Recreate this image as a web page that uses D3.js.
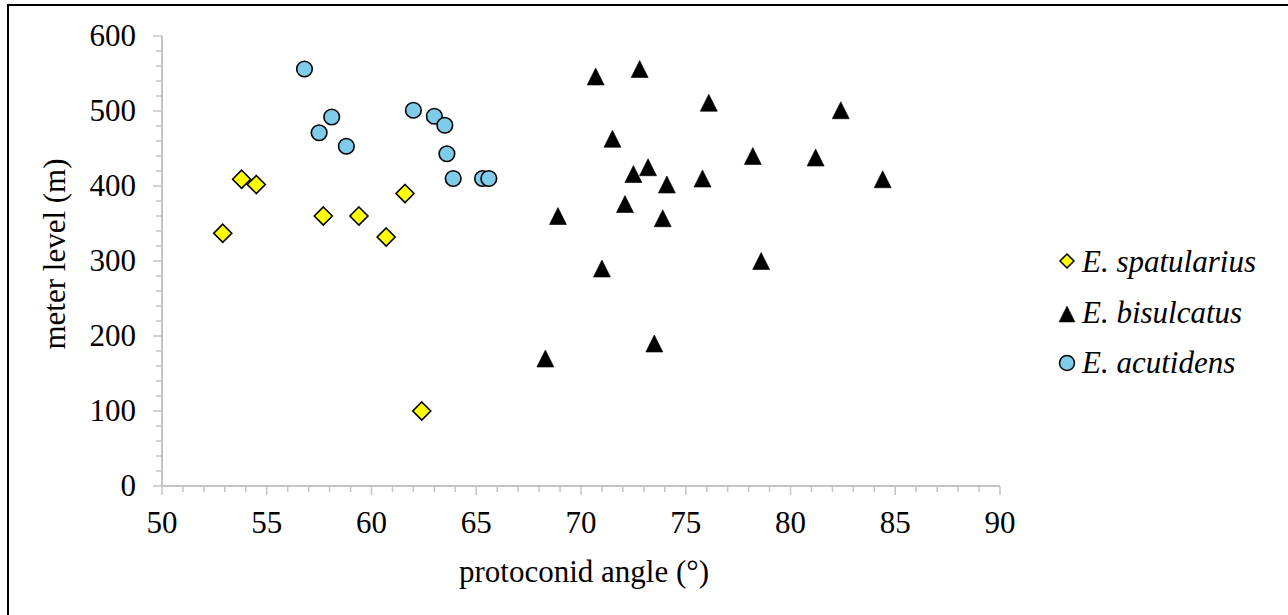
<!DOCTYPE html>
<html lang="en">
<head>
<meta charset="utf-8">
<title>protoconid angle vs meter level</title>
<script src="https://d3js.org/d3.v7.min.js"></script>
<style>
  body { margin: 0; background: #fff; }
</style>
</head>
<body>
<script>
// E. spatularius
var spatX = [52.9, 53.8, 54.5, 57.7, 59.4, 60.7, 61.6, 62.4];
var spatY = [337, 409, 402, 360, 360, 332, 390, 100];
// E. bisulcatus
var bisX = [70.7, 72.8, 76.1, 82.4, 71.5, 78.2, 81.2, 73.2, 72.5, 74.1, 75.8, 84.4, 72.1, 68.9, 73.9, 71.0, 78.6, 68.3, 73.5];
var bisY = [546, 556, 511, 501, 463, 440, 438, 425, 416, 402, 410, 409, 376, 360, 357, 290, 300, 170, 190];
// E. acutidens
var acuX = [56.8, 58.1, 57.5, 58.8, 62.0, 63.0, 63.5, 63.6, 63.9, 65.3, 65.6];
var acuY = [556, 492, 471, 453, 501, 493, 481, 443, 410, 410, 410];

var xTicks = [50, 55, 60, 65, 70, 75, 80, 85, 90];
var yTicks = [0, 100, 200, 300, 400, 500, 600];
var seriesNames = ["E. spatularius", "E. bisulcatus", "E. acutidens"];

var W = 1288, H = 615;
var margin = {left: 162, top: 36};
var pw = 838, ph = 450;
var fontFam = "'Liberation Serif', 'Times New Roman', serif";
var fs = 31;

var svg = d3.select("body").append("svg")
    .attr("width", W).attr("height", H)
    .attr("font-family", fontFam);

// outer frame (only top/left visible in picture)
svg.append("rect")
    .attr("x", 8).attr("y", 5)
    .attr("width", W + 20).attr("height", H + 20)
    .attr("fill", "none").attr("stroke", "#000").attr("stroke-width", 2);

var x = d3.scaleLinear().domain([50, 90]).range([margin.left, margin.left + pw]);
var y = d3.scaleLinear().domain([0, 600]).range([margin.top + ph, margin.top]);

var axisColor = "#c4c4c4";

// minor ticks
var g = svg.append("g");
g.selectAll(".xminor").data(d3.range(50, 91, 1)).enter().append("line")
    .attr("x1", d => x(d)).attr("x2", d => x(d))
    .attr("y1", y(0)).attr("y2", d => y(0) + (d % 5 === 0 ? 9 : 6))
    .attr("stroke", axisColor).attr("stroke-width", 1.5);
g.selectAll(".yminor").data(d3.range(0, 601, 20)).enter().append("line")
    .attr("y1", d => y(d)).attr("y2", d => y(d))
    .attr("x1", x(50)).attr("x2", d => x(50) - (d % 100 === 0 ? 9 : 6))
    .attr("stroke", axisColor).attr("stroke-width", 1.5);

// axis lines
g.append("line").attr("x1", x(50)).attr("x2", x(90)).attr("y1", y(0)).attr("y2", y(0))
    .attr("stroke", axisColor).attr("stroke-width", 2);
g.append("line").attr("x1", x(50)).attr("x2", x(50)).attr("y1", y(0)).attr("y2", y(600))
    .attr("stroke", axisColor).attr("stroke-width", 2);

// tick labels
svg.selectAll(".xl").data(xTicks).enter().append("text")
    .attr("x", d => x(d)).attr("y", y(0) + 47)
    .attr("text-anchor", "middle").attr("font-size", fs)
    .text(d => d);
svg.selectAll(".yl").data(yTicks).enter().append("text")
    .attr("x", 136).attr("y", d => y(d) + 10)
    .attr("text-anchor", "end").attr("font-size", fs)
    .text(d => d);

// axis titles
svg.append("text").attr("x", x(70) + 3).attr("y", 582)
    .attr("text-anchor", "middle").attr("font-size", fs)
    .text("protoconid angle (°)");
svg.append("text")
    .attr("transform", "translate(65," + 254 + ") rotate(-90)")
    .attr("text-anchor", "middle").attr("font-size", fs)
    .text("meter level (m)");

// marker shapes
var diamond = {
  draw: function(ctx, size) {
    var r = Math.sqrt(size) / 2;
    ctx.moveTo(0, -r); ctx.lineTo(r, 0); ctx.lineTo(0, r); ctx.lineTo(-r, 0); ctx.closePath();
  }
};
var triangle = {
  draw: function(ctx, size) {
    var h = Math.sqrt(size) / 2;
    ctx.moveTo(0, -h); ctx.lineTo(h, h); ctx.lineTo(-h, h); ctx.closePath();
  }
};

var plot = svg.append("g");

plot.selectAll(".spat").data(d3.zip(spatX, spatY)).enter().append("path")
    .attr("d", d3.symbol().type(diamond).size(18 * 18))
    .attr("transform", d => "translate(" + x(d[0]) + "," + y(d[1]) + ")")
    .attr("fill", "#ffff00").attr("stroke", "#000").attr("stroke-width", 1.6);

plot.selectAll(".bis").data(d3.zip(bisX, bisY)).enter().append("path")
    .attr("d", d3.symbol().type(triangle).size(17 * 17))
    .attr("transform", d => "translate(" + x(d[0]) + "," + y(d[1]) + ")")
    .attr("fill", "#000").attr("stroke", "#000").attr("stroke-width", 0.6);

plot.selectAll(".acu").data(d3.zip(acuX, acuY)).enter().append("circle")
    .attr("cx", d => x(d[0])).attr("cy", d => y(d[1])).attr("r", 7.8)
    .attr("fill", "#7fcbea").attr("stroke", "#000").attr("stroke-width", 1.6);

// legend
var legY = [261, 314, 363];
var leg = svg.append("g");
leg.append("path").attr("d", d3.symbol().type(diamond).size(14 * 14)())
    .attr("transform", "translate(1067," + legY[0] + ")")
    .attr("fill", "#ffff00").attr("stroke", "#000").attr("stroke-width", 1.5);
leg.append("path").attr("d", d3.symbol().type(triangle).size(16 * 16)())
    .attr("transform", "translate(1067," + legY[1] + ")")
    .attr("fill", "#000").attr("stroke", "#000").attr("stroke-width", 0.5);
leg.append("circle").attr("cx", 1067).attr("cy", legY[2]).attr("r", 7.5)
    .attr("fill", "#7fcbea").attr("stroke", "#000").attr("stroke-width", 1.5);
leg.selectAll(".lt").data(seriesNames).enter().append("text")
    .attr("x", 1082).attr("y", (d, i) => [272, 323, 373][i])
    .attr("font-size", fs).attr("font-style", "italic")
    .text(d => d);
</script>
</body>
</html>
